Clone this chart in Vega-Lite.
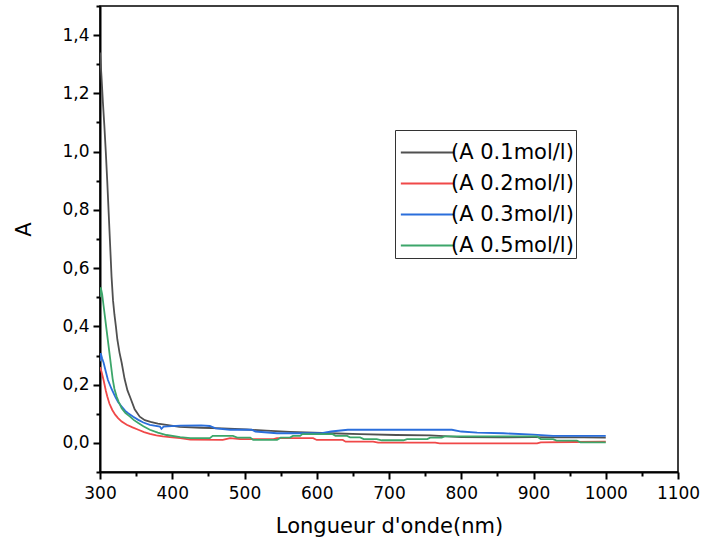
{
  "$schema": "https://vega.github.io/schema/vega-lite/v6.json",
  "width": 578,
  "height": 466,
  "autosize": {"type": "none"},
  "padding": {"left": 100, "top": 6, "right": 23, "bottom": 77},
  "background": "white",
  "config": {
    "view": {"stroke": "black", "strokeWidth": 1.5},
    "axis": {
      "domainColor": "black", "domainWidth": 2, "tickColor": "black", "tickWidth": 2,
      "labelColor": "black", "labelFont": "DejaVu Sans", "labelFontSize": 17,
      "titleFont": "DejaVu Sans", "titleFontSize": 21, "titleFontWeight": "normal", "titleColor": "black",
      "grid": false, "labelFlush": false, "labelOverlap": false
    }
  },
  "data": {"values": [
    {"s": "(A 0.1mol/l)", "wl": 300, "A": 1.34},
    {"s": "(A 0.1mol/l)", "wl": 302, "A": 1.26},
    {"s": "(A 0.1mol/l)", "wl": 304, "A": 1.17},
    {"s": "(A 0.1mol/l)", "wl": 306, "A": 1.09},
    {"s": "(A 0.1mol/l)", "wl": 308, "A": 1.0},
    {"s": "(A 0.1mol/l)", "wl": 310, "A": 0.9},
    {"s": "(A 0.1mol/l)", "wl": 312, "A": 0.79},
    {"s": "(A 0.1mol/l)", "wl": 314, "A": 0.68},
    {"s": "(A 0.1mol/l)", "wl": 316, "A": 0.57},
    {"s": "(A 0.1mol/l)", "wl": 318, "A": 0.49},
    {"s": "(A 0.1mol/l)", "wl": 320, "A": 0.44},
    {"s": "(A 0.1mol/l)", "wl": 322, "A": 0.4},
    {"s": "(A 0.1mol/l)", "wl": 324, "A": 0.355},
    {"s": "(A 0.1mol/l)", "wl": 327, "A": 0.31},
    {"s": "(A 0.1mol/l)", "wl": 330, "A": 0.275},
    {"s": "(A 0.1mol/l)", "wl": 334, "A": 0.22},
    {"s": "(A 0.1mol/l)", "wl": 338, "A": 0.18},
    {"s": "(A 0.1mol/l)", "wl": 342, "A": 0.155},
    {"s": "(A 0.1mol/l)", "wl": 348, "A": 0.115},
    {"s": "(A 0.1mol/l)", "wl": 355, "A": 0.09},
    {"s": "(A 0.1mol/l)", "wl": 362, "A": 0.078},
    {"s": "(A 0.1mol/l)", "wl": 370, "A": 0.072},
    {"s": "(A 0.1mol/l)", "wl": 380, "A": 0.066},
    {"s": "(A 0.1mol/l)", "wl": 392, "A": 0.062},
    {"s": "(A 0.1mol/l)", "wl": 410, "A": 0.055},
    {"s": "(A 0.1mol/l)", "wl": 440, "A": 0.052},
    {"s": "(A 0.1mol/l)", "wl": 470, "A": 0.05},
    {"s": "(A 0.1mol/l)", "wl": 503, "A": 0.046},
    {"s": "(A 0.1mol/l)", "wl": 530, "A": 0.042},
    {"s": "(A 0.1mol/l)", "wl": 563, "A": 0.038},
    {"s": "(A 0.1mol/l)", "wl": 618, "A": 0.033},
    {"s": "(A 0.1mol/l)", "wl": 660, "A": 0.03},
    {"s": "(A 0.1mol/l)", "wl": 710, "A": 0.027},
    {"s": "(A 0.1mol/l)", "wl": 757, "A": 0.026},
    {"s": "(A 0.1mol/l)", "wl": 800, "A": 0.02},
    {"s": "(A 0.1mol/l)", "wl": 853, "A": 0.019},
    {"s": "(A 0.1mol/l)", "wl": 900, "A": 0.02},
    {"s": "(A 0.1mol/l)", "wl": 930, "A": 0.019},
    {"s": "(A 0.1mol/l)", "wl": 970, "A": 0.019},
    {"s": "(A 0.1mol/l)", "wl": 1000, "A": 0.018},

    {"s": "(A 0.2mol/l)", "wl": 300, "A": 0.26},
    {"s": "(A 0.2mol/l)", "wl": 302, "A": 0.245},
    {"s": "(A 0.2mol/l)", "wl": 305, "A": 0.215},
    {"s": "(A 0.2mol/l)", "wl": 308, "A": 0.18},
    {"s": "(A 0.2mol/l)", "wl": 310, "A": 0.16},
    {"s": "(A 0.2mol/l)", "wl": 313, "A": 0.135},
    {"s": "(A 0.2mol/l)", "wl": 317, "A": 0.113},
    {"s": "(A 0.2mol/l)", "wl": 321, "A": 0.097},
    {"s": "(A 0.2mol/l)", "wl": 325, "A": 0.085},
    {"s": "(A 0.2mol/l)", "wl": 330, "A": 0.073},
    {"s": "(A 0.2mol/l)", "wl": 337, "A": 0.062},
    {"s": "(A 0.2mol/l)", "wl": 345, "A": 0.053},
    {"s": "(A 0.2mol/l)", "wl": 353, "A": 0.045},
    {"s": "(A 0.2mol/l)", "wl": 361, "A": 0.037},
    {"s": "(A 0.2mol/l)", "wl": 369, "A": 0.031},
    {"s": "(A 0.2mol/l)", "wl": 378, "A": 0.026},
    {"s": "(A 0.2mol/l)", "wl": 387, "A": 0.022},
    {"s": "(A 0.2mol/l)", "wl": 400, "A": 0.019},
    {"s": "(A 0.2mol/l)", "wl": 411, "A": 0.016},
    {"s": "(A 0.2mol/l)", "wl": 425, "A": 0.011},
    {"s": "(A 0.2mol/l)", "wl": 470, "A": 0.01},
    {"s": "(A 0.2mol/l)", "wl": 480, "A": 0.016},
    {"s": "(A 0.2mol/l)", "wl": 494, "A": 0.013},
    {"s": "(A 0.2mol/l)", "wl": 540, "A": 0.013},
    {"s": "(A 0.2mol/l)", "wl": 545, "A": 0.016},
    {"s": "(A 0.2mol/l)", "wl": 595, "A": 0.016},
    {"s": "(A 0.2mol/l)", "wl": 600, "A": 0.01},
    {"s": "(A 0.2mol/l)", "wl": 636, "A": 0.01},
    {"s": "(A 0.2mol/l)", "wl": 640, "A": 0.004},
    {"s": "(A 0.2mol/l)", "wl": 678, "A": 0.004},
    {"s": "(A 0.2mol/l)", "wl": 685, "A": 0.001},
    {"s": "(A 0.2mol/l)", "wl": 764, "A": 0.001},
    {"s": "(A 0.2mol/l)", "wl": 770, "A": -0.002},
    {"s": "(A 0.2mol/l)", "wl": 905, "A": -0.002},
    {"s": "(A 0.2mol/l)", "wl": 910, "A": 0.002},
    {"s": "(A 0.2mol/l)", "wl": 957, "A": 0.003},
    {"s": "(A 0.2mol/l)", "wl": 1000, "A": 0.004},

    {"s": "(A 0.3mol/l)", "wl": 300, "A": 0.28},
    {"s": "(A 0.3mol/l)", "wl": 301, "A": 0.308},
    {"s": "(A 0.3mol/l)", "wl": 303, "A": 0.29},
    {"s": "(A 0.3mol/l)", "wl": 305, "A": 0.275},
    {"s": "(A 0.3mol/l)", "wl": 308, "A": 0.245},
    {"s": "(A 0.3mol/l)", "wl": 311, "A": 0.216},
    {"s": "(A 0.3mol/l)", "wl": 316, "A": 0.185},
    {"s": "(A 0.3mol/l)", "wl": 321, "A": 0.159},
    {"s": "(A 0.3mol/l)", "wl": 325, "A": 0.14},
    {"s": "(A 0.3mol/l)", "wl": 330, "A": 0.125},
    {"s": "(A 0.3mol/l)", "wl": 335, "A": 0.11},
    {"s": "(A 0.3mol/l)", "wl": 339, "A": 0.102},
    {"s": "(A 0.3mol/l)", "wl": 346, "A": 0.09},
    {"s": "(A 0.3mol/l)", "wl": 353, "A": 0.079},
    {"s": "(A 0.3mol/l)", "wl": 360, "A": 0.07},
    {"s": "(A 0.3mol/l)", "wl": 369, "A": 0.062},
    {"s": "(A 0.3mol/l)", "wl": 383, "A": 0.056},
    {"s": "(A 0.3mol/l)", "wl": 385, "A": 0.048},
    {"s": "(A 0.3mol/l)", "wl": 388, "A": 0.056},
    {"s": "(A 0.3mol/l)", "wl": 411, "A": 0.059},
    {"s": "(A 0.3mol/l)", "wl": 440, "A": 0.06},
    {"s": "(A 0.3mol/l)", "wl": 452, "A": 0.058},
    {"s": "(A 0.3mol/l)", "wl": 460, "A": 0.05},
    {"s": "(A 0.3mol/l)", "wl": 480, "A": 0.045},
    {"s": "(A 0.3mol/l)", "wl": 510, "A": 0.045},
    {"s": "(A 0.3mol/l)", "wl": 515, "A": 0.039},
    {"s": "(A 0.3mol/l)", "wl": 545, "A": 0.033},
    {"s": "(A 0.3mol/l)", "wl": 605, "A": 0.033},
    {"s": "(A 0.3mol/l)", "wl": 620, "A": 0.039},
    {"s": "(A 0.3mol/l)", "wl": 643, "A": 0.045},
    {"s": "(A 0.3mol/l)", "wl": 787, "A": 0.045},
    {"s": "(A 0.3mol/l)", "wl": 800, "A": 0.039},
    {"s": "(A 0.3mol/l)", "wl": 822, "A": 0.035},
    {"s": "(A 0.3mol/l)", "wl": 858, "A": 0.033},
    {"s": "(A 0.3mol/l)", "wl": 900, "A": 0.028},
    {"s": "(A 0.3mol/l)", "wl": 927, "A": 0.024},
    {"s": "(A 0.3mol/l)", "wl": 1000, "A": 0.024},

    {"s": "(A 0.5mol/l)", "wl": 300, "A": 0.5},
    {"s": "(A 0.5mol/l)", "wl": 301, "A": 0.534},
    {"s": "(A 0.5mol/l)", "wl": 303, "A": 0.51},
    {"s": "(A 0.5mol/l)", "wl": 305, "A": 0.47},
    {"s": "(A 0.5mol/l)", "wl": 307, "A": 0.43},
    {"s": "(A 0.5mol/l)", "wl": 309, "A": 0.39},
    {"s": "(A 0.5mol/l)", "wl": 311, "A": 0.35},
    {"s": "(A 0.5mol/l)", "wl": 314, "A": 0.29},
    {"s": "(A 0.5mol/l)", "wl": 317.5, "A": 0.22},
    {"s": "(A 0.5mol/l)", "wl": 320, "A": 0.185},
    {"s": "(A 0.5mol/l)", "wl": 323, "A": 0.159},
    {"s": "(A 0.5mol/l)", "wl": 326, "A": 0.14},
    {"s": "(A 0.5mol/l)", "wl": 330, "A": 0.119},
    {"s": "(A 0.5mol/l)", "wl": 335, "A": 0.103},
    {"s": "(A 0.5mol/l)", "wl": 341.5, "A": 0.09},
    {"s": "(A 0.5mol/l)", "wl": 347, "A": 0.078},
    {"s": "(A 0.5mol/l)", "wl": 353, "A": 0.068},
    {"s": "(A 0.5mol/l)", "wl": 360, "A": 0.057},
    {"s": "(A 0.5mol/l)", "wl": 369, "A": 0.045},
    {"s": "(A 0.5mol/l)", "wl": 380, "A": 0.035},
    {"s": "(A 0.5mol/l)", "wl": 392, "A": 0.027},
    {"s": "(A 0.5mol/l)", "wl": 411, "A": 0.02},
    {"s": "(A 0.5mol/l)", "wl": 425, "A": 0.016},
    {"s": "(A 0.5mol/l)", "wl": 452, "A": 0.016},
    {"s": "(A 0.5mol/l)", "wl": 456, "A": 0.024},
    {"s": "(A 0.5mol/l)", "wl": 484, "A": 0.024},
    {"s": "(A 0.5mol/l)", "wl": 490, "A": 0.018},
    {"s": "(A 0.5mol/l)", "wl": 508, "A": 0.018},
    {"s": "(A 0.5mol/l)", "wl": 512, "A": 0.01},
    {"s": "(A 0.5mol/l)", "wl": 545, "A": 0.01},
    {"s": "(A 0.5mol/l)", "wl": 550, "A": 0.018},
    {"s": "(A 0.5mol/l)", "wl": 563, "A": 0.018},
    {"s": "(A 0.5mol/l)", "wl": 567, "A": 0.024},
    {"s": "(A 0.5mol/l)", "wl": 577, "A": 0.024},
    {"s": "(A 0.5mol/l)", "wl": 580, "A": 0.03},
    {"s": "(A 0.5mol/l)", "wl": 622, "A": 0.03},
    {"s": "(A 0.5mol/l)", "wl": 626, "A": 0.024},
    {"s": "(A 0.5mol/l)", "wl": 642, "A": 0.024},
    {"s": "(A 0.5mol/l)", "wl": 646, "A": 0.019},
    {"s": "(A 0.5mol/l)", "wl": 660, "A": 0.019},
    {"s": "(A 0.5mol/l)", "wl": 665, "A": 0.013},
    {"s": "(A 0.5mol/l)", "wl": 683, "A": 0.013},
    {"s": "(A 0.5mol/l)", "wl": 690, "A": 0.009},
    {"s": "(A 0.5mol/l)", "wl": 720, "A": 0.009},
    {"s": "(A 0.5mol/l)", "wl": 725, "A": 0.013},
    {"s": "(A 0.5mol/l)", "wl": 753, "A": 0.013},
    {"s": "(A 0.5mol/l)", "wl": 757, "A": 0.018},
    {"s": "(A 0.5mol/l)", "wl": 773, "A": 0.018},
    {"s": "(A 0.5mol/l)", "wl": 777, "A": 0.022},
    {"s": "(A 0.5mol/l)", "wl": 905, "A": 0.022},
    {"s": "(A 0.5mol/l)", "wl": 910, "A": 0.013},
    {"s": "(A 0.5mol/l)", "wl": 927, "A": 0.013},
    {"s": "(A 0.5mol/l)", "wl": 932, "A": 0.008},
    {"s": "(A 0.5mol/l)", "wl": 960, "A": 0.008},
    {"s": "(A 0.5mol/l)", "wl": 965, "A": 0.002},
    {"s": "(A 0.5mol/l)", "wl": 1000, "A": 0.002}
  ]},
  "resolve": {"axis": {"x": "independent", "y": "independent"}},
  "layer": [
    {
      "mark": {"type": "point", "opacity": 0},
      "encoding": {
        "x": {"field": "wl", "type": "quantitative", "scale": {"domain": [300, 1100], "nice": false, "zero": false},
          "axis": {"orient": "bottom", "values": [350, 450, 550, 650, 750, 850, 950, 1050], "labels": false, "domain": false, "tickSize": 4, "title": null}},
        "y": {"field": "A", "type": "quantitative", "scale": {"domain": [-0.1, 1.5], "nice": false, "zero": false},
          "axis": {"orient": "left", "values": [-0.1, 0.1, 0.3, 0.5, 0.7, 0.9, 1.1, 1.3, 1.5], "labels": false, "domain": false, "tickSize": 4, "title": null}}
      }
    },
    {
      "mark": {"type": "line", "strokeWidth": 1.8, "clip": true},
      "encoding": {
        "x": {"field": "wl", "type": "quantitative", "scale": {"domain": [300, 1100], "nice": false, "zero": false},
          "axis": {"orient": "bottom", "values": [300, 400, 500, 600, 700, 800, 900, 1000, 1100], "format": "d", "tickSize": 7, "labelPadding": 6,
            "title": "Longueur d'onde(nm)", "titleX": 289, "titleY": 60, "titleBaseline": "alphabetic", "titleAlign": "center"}},
        "y": {"field": "A", "type": "quantitative", "scale": {"domain": [-0.1, 1.5], "nice": false, "zero": false},
          "axis": {"orient": "left", "values": [0, 0.2, 0.4, 0.6, 0.8, 1.0, 1.2, 1.4], "tickSize": 7, "labelPadding": 4,
            "labelExpr": "replace(format(datum.value, '.1f'), '.', ',')",
            "title": "A", "titleX": -70, "titleY": 223, "titleAngle": 270, "titleBaseline": "alphabetic", "titleAlign": "center"}},
        "color": {"field": "s", "type": "nominal",
          "scale": {"domain": ["(A 0.1mol/l)", "(A 0.2mol/l)", "(A 0.3mol/l)", "(A 0.5mol/l)"], "range": ["#505050", "#f04848", "#2a6edb", "#3ca66a"]},
          "legend": {"orient": "none", "legendX": 295, "legendY": 124, "title": null, "titlePadding": 0,
            "strokeColor": "#333333", "fillColor": "white", "padding": 2,
            "labelFont": "DejaVu Sans", "labelFontSize": 21, "labelColor": "black", "labelOffset": 3,
            "symbolType": "M-1.4,0H1.4", "symbolSize": 1450, "symbolOffset": 10, "symbolStrokeWidth": 2, "symbolFillColor": "transparent", "rowPadding": 0}}
      }
    }
  ]
}
